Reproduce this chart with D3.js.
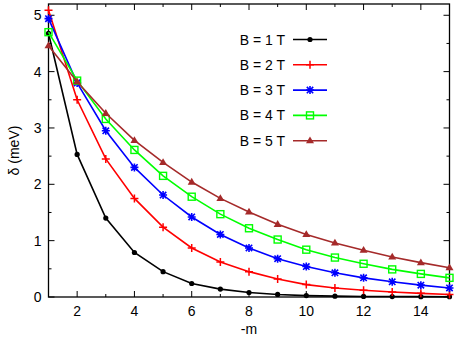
<!DOCTYPE html>
<html>
<head>
<meta charset="utf-8">
<script src="https://cdn.jsdelivr.net/npm/d3@7"></script>
<style>
  body { margin: 0; background: #fff; }
  svg { display: block; }
  text { font-family: "Liberation Sans", Arial, sans-serif; fill: #000; }
</style>
</head>
<body>
<svg width="454" height="338"></svg>
<script>
// -m values
var mValues = [1, 2, 3, 4, 5, 6, 7, 8, 9, 10, 11, 12, 13, 14, 15];

// delta (meV) for each field
var deltaB1 = [4.68, 2.53, 1.40, 0.79, 0.45, 0.24, 0.14, 0.08, 0.045, 0.025, 0.015, 0.01, 0.008, 0.006, 0.005];
var deltaB2 = [5.09, 3.50, 2.45, 1.75, 1.24, 0.87, 0.62, 0.45, 0.32, 0.22, 0.16, 0.12, 0.09, 0.065, 0.045];
var deltaB3 = [4.94, 3.80, 2.95, 2.30, 1.81, 1.42, 1.11, 0.87, 0.68, 0.54, 0.43, 0.34, 0.27, 0.21, 0.16];
var deltaB4 = [4.70, 3.84, 3.16, 2.61, 2.15, 1.78, 1.47, 1.22, 1.02, 0.84, 0.70, 0.59, 0.49, 0.41, 0.34];
var deltaB5 = [4.46, 3.82, 3.26, 2.78, 2.39, 2.04, 1.75, 1.51, 1.29, 1.11, 0.96, 0.83, 0.71, 0.61, 0.52];

var seriesNames = ["B = 1 T", "B = 2 T", "B = 3 T", "B = 4 T", "B = 5 T"];
var seriesColors = ["#000000", "#ff0000", "#0000ff", "#00ff00", "#a52a2a"];
var seriesMarkers = ["circle", "plus", "star", "square", "triangle"];

var xTickLabels = [2, 4, 6, 8, 10, 12, 14];
var yTickLabels = [0, 1, 2, 3, 4, 5];

var series = [deltaB1, deltaB2, deltaB3, deltaB4, deltaB5].map(function(vals, i) {
  return {
    name: seriesNames[i],
    color: seriesColors[i],
    marker: seriesMarkers[i],
    points: vals.map(function(v, j) { return { m: mValues[j], d: v }; })
  };
});

var svg = d3.select("svg");
var margin = {top: 4, right: 4.5, bottom: 41, left: 48.5};
var W = 454, H = 338;

var x = d3.scaleLinear().domain([1, 15]).range([margin.left, W - margin.right]);
var y = d3.scaleLinear().domain([0, 5.2]).range([H - margin.bottom, margin.top]);

var x0 = x.range()[0], x1 = x.range()[1];
var y0 = y.range()[0], y1 = y.range()[1];

// ticks (inward, mirrored on all sides)
var ticks = svg.append("g").attr("stroke", "#000").attr("stroke-width", 1);
var major = 6, minor = 3;
d3.range(1, 16, 1).forEach(function(v) {
  var len = (v % 2 === 0) ? major : minor;
  ticks.append("line").attr("x1", x(v)).attr("x2", x(v)).attr("y1", y0).attr("y2", y0 - len);
  ticks.append("line").attr("x1", x(v)).attr("x2", x(v)).attr("y1", y1).attr("y2", y1 + len);
});
d3.range(0, 5.01, 0.5).forEach(function(v) {
  var len = (Math.abs(v - Math.round(v)) < 1e-6) ? major : minor;
  ticks.append("line").attr("y1", y(v)).attr("y2", y(v)).attr("x1", x0).attr("x2", x0 + len);
  ticks.append("line").attr("y1", y(v)).attr("y2", y(v)).attr("x1", x1).attr("x2", x1 - len);
});

// frame
svg.append("rect")
  .attr("x", x0).attr("y", y1)
  .attr("width", x1 - x0).attr("height", y0 - y1)
  .attr("fill", "none").attr("stroke", "#000").attr("stroke-width", 1.3);

// tick labels
svg.append("g").selectAll("text").data(xTickLabels).enter().append("text")
  .attr("x", function(d) { return x(d); })
  .attr("y", y0 + 19)
  .attr("text-anchor", "middle")
  .style("font-size", "14px")
  .text(function(d) { return d; });

svg.append("g").selectAll("text").data(yTickLabels).enter().append("text")
  .attr("x", x0 - 7)
  .attr("y", function(d) { return y(d) + 5; })
  .attr("text-anchor", "end")
  .style("font-size", "14px")
  .text(function(d) { return d; });

// axis titles
svg.append("text")
  .attr("x", (x0 + x1) / 2)
  .attr("y", 334)
  .attr("text-anchor", "middle")
  .style("font-size", "14px")
  .text("-m");

svg.append("text")
  .attr("transform", "translate(19," + ((y0 + y1) / 2) + ") rotate(-90)")
  .attr("text-anchor", "middle")
  .style("font-size", "14px")
  .text("δ (meV)");

// markers
function drawMarker(g, type, cx, cy, color) {
  if (type === "circle") {
    g.append("circle").attr("cx", cx).attr("cy", cy).attr("r", 2.6).attr("fill", color);
  } else if (type === "plus") {
    g.append("path").attr("d", "M" + (cx - 4) + "," + cy + "H" + (cx + 4) + "M" + cx + "," + (cy - 4) + "V" + (cy + 4))
      .attr("stroke", color).attr("stroke-width", 1.5).attr("fill", "none");
  } else if (type === "star") {
    var s = 3.2;
    g.append("path").attr("d",
      "M" + (cx - 4) + "," + cy + "H" + (cx + 4) + "M" + cx + "," + (cy - 4) + "V" + (cy + 4) +
      "M" + (cx - s) + "," + (cy - s) + "L" + (cx + s) + "," + (cy + s) +
      "M" + (cx - s) + "," + (cy + s) + "L" + (cx + s) + "," + (cy - s))
      .attr("stroke", color).attr("stroke-width", 1.6).attr("fill", "none");
  } else if (type === "square") {
    g.append("rect").attr("x", cx - 3.5).attr("y", cy - 3.5).attr("width", 7).attr("height", 7)
      .attr("fill", "none").attr("stroke", color).attr("stroke-width", 1.4);
  } else if (type === "triangle") {
    g.append("path").attr("d", "M" + cx + "," + (cy - 4.2) + "L" + (cx + 4) + "," + (cy + 2.6) + "L" + (cx - 4) + "," + (cy + 2.6) + "Z")
      .attr("fill", color);
  }
}

var line = d3.line()
  .x(function(d) { return x(d.m); })
  .y(function(d) { return y(d.d); });

var plot = svg.append("g");
series.forEach(function(s) {
  var g = plot.append("g");
  g.append("path")
    .datum(s.points)
    .attr("d", line)
    .attr("fill", "none")
    .attr("stroke", s.color)
    .attr("stroke-width", 1.6);
  s.points.forEach(function(p) {
    drawMarker(g, s.marker, x(p.m), y(p.d), s.color);
  });
});

// legend
var legend = svg.append("g");
series.forEach(function(s, i) {
  var ly = 39.5 + i * 25.3;
  legend.append("text")
    .attr("x", 285)
    .attr("y", ly + 5)
    .attr("text-anchor", "end")
    .style("font-size", "14px")
    .text(s.name);
  legend.append("line")
    .attr("x1", 293).attr("x2", 327)
    .attr("y1", ly).attr("y2", ly)
    .attr("stroke", s.color).attr("stroke-width", 1.6);
  drawMarker(legend, s.marker, 310, ly, s.color);
});
</script>
</body>
</html>
